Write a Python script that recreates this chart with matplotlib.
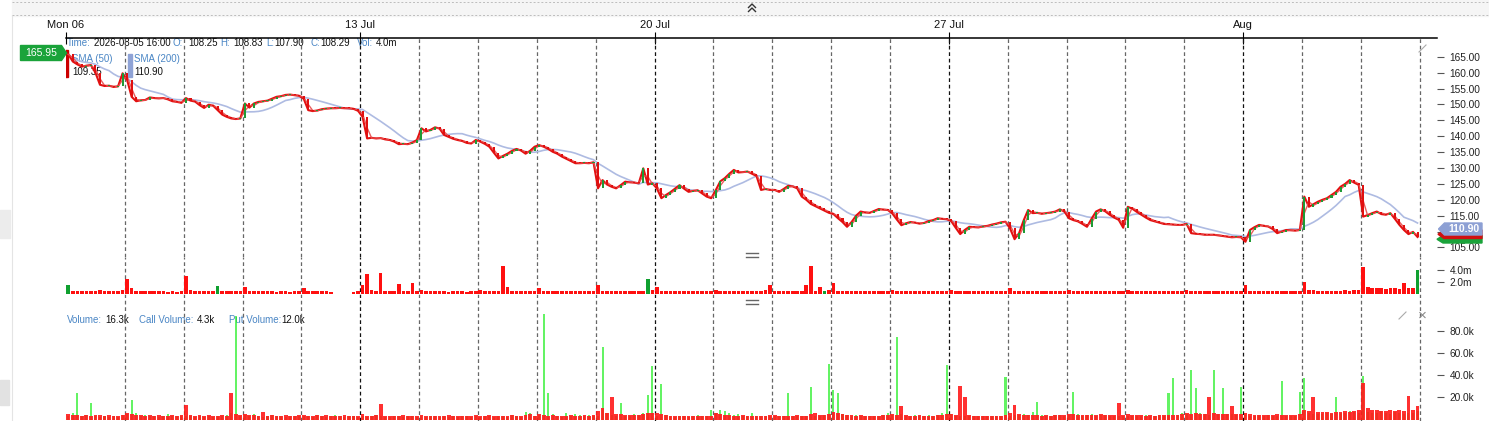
import numpy as np
import pandas as pd
import matplotlib
matplotlib.use("Agg")
import matplotlib.pyplot as plt
from matplotlib.patches import Polygon, Rectangle
from matplotlib.lines import Line2D

plt.rcParams['font.family'] = ['Liberation Sans', 'DejaVu Sans']

W, H = 1489, 421
BARS_PER_DAY = 13

# trading days shown (Jul 06 .. Aug 05), 13 half-hour bars each
day_names = ["Jul 06", "Jul 07", "Jul 08", "Jul 09", "Jul 10",
             "Jul 13", "Jul 14", "Jul 15", "Jul 16", "Jul 17",
             "Jul 20", "Jul 21", "Jul 22", "Jul 23", "Jul 24",
             "Jul 27", "Jul 28", "Jul 29", "Jul 30", "Jul 31",
             "Aug 03", "Aug 04", "Aug 05"]
tick_days = [0, 5, 10, 15, 20]
tick_labels = ["Mon 06", "13 Jul", "20 Jul", "27 Jul", "Aug"]

closes = [
    165.8, 163.5, 162.6, 161.9, 162.2, 162.4, 160.0, 156.2, 155.8, 155.9, 155.5, 155.7, 159.8,  # Jul 06
    157.7, 152.4, 151.0, 151.3, 151.4, 152.2, 152.0, 151.9, 152.0, 151.6, 151.0, 150.8, 150.5,  # Jul 07
    152.0, 151.2, 150.9, 149.8, 148.9, 149.9, 149.6, 148.2, 146.8, 146.1, 145.6, 145.4, 145.6,  # Jul 08
    150.3, 149.0, 150.3, 150.8, 151.0, 151.2, 151.8, 152.4, 152.6, 153.0, 153.1, 152.9, 152.7,  # Jul 09
    151.8, 148.2, 147.9, 148.1, 148.5, 148.7, 148.8, 148.8, 148.9, 148.8, 148.8, 148.6, 148.0,  # Jul 10
    146.1, 139.3, 139.5, 139.3, 139.4, 139.0, 138.8, 138.3, 137.5, 137.6, 137.5, 138.0, 138.8,  # Jul 13
    142.5, 141.5, 142.0, 142.8, 142.4, 140.4, 139.8, 139.2, 138.8, 138.5, 137.9, 137.7, 138.8,  # Jul 14
    138.3, 137.6, 136.7, 134.8, 133.0, 133.8, 134.5, 135.4, 136.0, 135.5, 134.5, 135.4, 136.7,  # Jul 15
    137.2, 136.7, 136.0, 135.1, 134.5, 133.6, 132.9, 132.2, 131.5, 131.5, 131.6, 131.5, 131.8,  # Jul 16
    123.6, 126.2, 124.8, 124.1, 123.6, 124.6, 125.7, 125.5, 125.4, 125.2, 129.9, 124.8, 125.2,  # Jul 17
    123.6, 120.5, 121.5, 122.4, 123.5, 124.6, 123.5, 122.5, 122.8, 123.0, 122.0, 121.0, 120.5,  # Jul 20
    123.0, 125.8, 126.8, 128.2, 129.4, 128.6, 128.7, 128.9, 128.2, 127.5, 123.1, 123.4, 123.1,  # Jul 21
    123.1, 122.5, 123.4, 124.4, 124.2, 123.6, 121.0, 120.0, 118.7, 118.0, 117.3, 116.6, 115.9,  # Jul 22
    115.5, 114.2, 113.0, 111.5, 113.0, 115.0, 116.3, 116.0, 115.9, 116.5, 117.1, 116.9, 116.8,  # Jul 23
    115.7, 113.8, 112.0, 112.6, 113.0, 112.8, 112.5, 112.7, 113.3, 113.6, 114.2, 114.0, 113.9,  # Jul 24
    113.3, 111.2, 109.2, 110.5, 111.5, 111.4, 111.3, 111.6, 111.8, 112.2, 112.5, 112.9, 113.1,  # Jul 27
    111.0, 107.6, 109.5, 113.5, 116.8, 115.8, 115.9, 115.6, 115.8, 116.0, 116.3, 117.0, 116.3,  # Jul 28
    114.2, 113.6, 113.2, 112.4, 111.5, 114.0, 116.3, 117.0, 116.4, 115.3, 114.4, 113.7, 111.2,  # Jul 29
    117.8, 117.2, 116.2, 115.3, 114.4, 113.6, 113.2, 112.8, 112.4, 112.3, 112.2, 112.1, 112.1,  # Jul 30
    112.4, 109.5, 109.3, 109.2, 109.0, 109.0, 109.0, 108.8, 108.6, 108.4, 108.2, 108.3, 108.2,  # Jul 31
    106.8, 110.5, 111.4, 112.1, 111.8, 111.6, 110.8, 109.5, 110.0, 110.5, 110.4, 110.3, 110.5,  # Aug 03
    121.0, 117.8, 118.6, 119.4, 120.0, 120.5, 121.5, 122.5, 124.1, 125.0, 126.2, 125.4, 124.7,  # Aug 04
    114.7, 115.2, 115.8, 116.3, 115.5, 115.3, 115.8, 114.0, 112.1, 110.5, 109.2, 109.9, 108.3,  # Aug 05
]

# stock volume, millions
volume_m = [
    1.5, 0.6, 0.6, 0.5, 0.5, 0.5, 0.6, 0.8, 0.6, 0.5, 0.5, 0.5, 0.7,
    2.5, 1.0, 0.6, 0.5, 0.5, 0.5, 0.5, 0.5, 0.5, 0.4, 0.5, 0.4, 0.5,
    3.0, 0.8, 0.6, 0.5, 0.5, 0.5, 0.5, 1.4, 0.5, 0.5, 0.5, 0.5, 0.6,
    1.2, 0.6, 0.6, 0.5, 0.5, 0.5, 0.5, 0.4, 0.5, 0.5, 0.4, 0.5, 0.5,
    1.0, 0.6, 0.5, 0.5, 0.5, 0.5, 0.4, 0.0, 0.0, 0.0, 0.0, 0.4, 0.5,
    1.5, 3.4, 0.7, 0.6, 3.5, 0.6, 0.5, 0.5, 1.7, 0.5, 0.5, 1.8, 0.5,
    0.8, 0.6, 0.5, 0.5, 0.5, 0.5, 0.4, 0.5, 0.5, 0.5, 0.4, 0.5, 0.5,
    0.7, 0.5, 0.5, 0.5, 0.6, 4.6, 1.2, 0.5, 0.5, 0.5, 0.5, 0.5, 0.5,
    1.0, 0.6, 0.5, 0.5, 0.5, 0.5, 0.6, 0.5, 0.5, 0.5, 0.6, 0.5, 0.5,
    1.5, 0.6, 0.5, 0.5, 0.5, 0.5, 0.5, 0.5, 0.5, 0.5, 0.6, 2.5, 0.7,
    1.2, 0.6, 0.5, 0.5, 0.5, 0.5, 0.5, 0.5, 0.5, 0.5, 0.5, 0.5, 0.6,
    0.8, 0.6, 0.6, 0.5, 0.5, 0.5, 0.5, 0.5, 0.5, 0.5, 0.6, 0.8, 1.5,
    0.6, 0.5, 0.5, 0.5, 0.5, 0.5, 0.6, 1.5, 4.6, 0.6, 1.2, 0.6, 0.7,
    1.8, 0.6, 0.6, 0.5, 0.5, 0.5, 0.5, 0.5, 0.5, 0.5, 0.5, 0.5, 0.5,
    0.8, 0.5, 0.5, 0.5, 0.5, 0.5, 0.5, 0.5, 0.5, 0.5, 0.5, 0.5, 0.6,
    0.7, 0.5, 0.6, 0.5, 0.5, 0.5, 0.5, 0.5, 0.5, 0.5, 0.5, 0.5, 0.5,
    1.0, 0.6, 0.6, 0.6, 0.6, 0.6, 0.5, 0.5, 0.5, 0.5, 0.5, 0.5, 0.5,
    0.8, 0.6, 0.5, 0.5, 0.5, 0.6, 0.5, 0.5, 0.5, 0.5, 0.5, 0.5, 0.6,
    0.8, 0.6, 0.5, 0.5, 0.5, 0.5, 0.5, 0.5, 0.5, 0.5, 0.5, 0.5, 0.5,
    0.8, 0.6, 0.6, 0.5, 0.5, 0.5, 0.5, 0.5, 0.5, 0.5, 0.5, 0.5, 0.5,
    1.6, 0.6, 0.6, 0.6, 0.5, 0.5, 0.5, 0.5, 0.5, 0.5, 0.5, 0.5, 0.6,
    2.0, 0.8, 0.7, 0.6, 0.6, 0.6, 0.6, 0.6, 0.6, 0.7, 0.6, 0.7, 0.8,
    4.5, 1.2, 1.0, 1.0, 1.1, 0.9, 1.0, 1.0, 0.9, 1.8, 1.0, 1.1, 4.0,
]
# bars whose volume is shown green (the rest are red)
vol_green = [0, 33, 128, 167, 298]

# option volume, thousands
call_k = [
    3, 6, 24, 3, 4, 15, 3, 2, 3, 2, 3, 2, 4,
    5, 18, 6, 3, 4, 3, 3, 2, 3, 5, 3, 3, 3,
    3, 3, 2, 3, 2, 3, 2, 3, 3, 4, 6, 93, 3,
    4, 3, 5, 3, 2, 3, 4, 3, 3, 2, 3, 3, 3,
    3, 3, 2, 4, 3, 2, 3, 4, 3, 2, 3, 3, 2,
    3, 2, 3, 4, 3, 2, 2, 3, 3, 2, 3, 3, 2,
    3, 2, 3, 3, 2, 3, 2, 3, 2, 3, 3, 2, 3,
    2, 3, 3, 2, 3, 3, 2, 4, 3, 2, 7, 6, 3,
    4, 95, 24, 5, 3, 2, 6, 3, 5, 4, 3, 4, 3,
    3, 65, 6, 4, 3, 15, 3, 3, 5, 4, 6, 22, 48,
    3, 32, 4, 3, 2, 3, 3, 2, 3, 4, 3, 3, 9,
    6, 9, 8, 6, 4, 5, 3, 3, 6, 3, 3, 3, 3,
    3, 3, 3, 24, 3, 3, 3, 3, 29, 3, 3, 4, 50,
    27, 24, 5, 4, 3, 4, 3, 3, 3, 3, 3, 4, 6,
    4, 74, 5, 3, 3, 4, 3, 3, 4, 3, 4, 6, 49,
    5, 3, 3, 3, 3, 3, 3, 3, 3, 3, 3, 3, 38,
    3, 4, 4, 5, 4, 7, 16, 4, 3, 3, 4, 4, 3,
    4, 25, 5, 3, 4, 5, 3, 4, 4, 3, 3, 3, 3,
    3, 3, 3, 3, 4, 3, 3, 4, 3, 24, 37, 4, 6,
    5, 45, 28, 6, 5, 4, 45, 5, 28, 5, 5, 4, 29,
    4, 3, 3, 4, 3, 4, 3, 3, 35, 3, 3, 3, 25,
    37, 6, 5, 5, 5, 6, 5, 20, 6, 6, 8, 7, 6,
    39, 7, 6, 6, 8, 6, 5, 7, 6, 5, 6, 6, 8,
]
put_k = [
    5, 4, 4, 3, 4, 3, 4, 4, 3, 4, 3, 3, 4,
    6, 5, 4, 4, 3, 4, 3, 4, 3, 3, 4, 3, 4,
    13, 4, 3, 4, 3, 4, 3, 3, 4, 3, 24, 5, 4,
    5, 4, 4, 3, 7, 3, 4, 3, 3, 4, 3, 3, 4,
    4, 3, 3, 4, 3, 4, 3, 3, 3, 4, 3, 3, 3,
    5, 3, 3, 4, 14, 3, 3, 3, 3, 4, 3, 3, 3,
    4, 3, 3, 3, 3, 3, 4, 3, 3, 3, 3, 3, 4,
    3, 3, 4, 3, 3, 3, 3, 4, 3, 3, 4, 5, 3,
    5, 4, 3, 4, 3, 3, 3, 4, 3, 3, 4, 3, 4,
    8, 10, 6, 20, 5, 5, 4, 4, 4, 4, 5, 6, 6,
    6, 5, 4, 3, 3, 3, 3, 3, 3, 3, 3, 3, 3,
    6, 5, 4, 4, 3, 3, 4, 3, 3, 3, 3, 3, 4,
    4, 3, 3, 3, 3, 4, 3, 3, 5, 6, 4, 4, 5,
    7, 6, 5, 4, 4, 3, 4, 3, 3, 3, 3, 4, 4,
    5, 4, 12, 4, 3, 3, 4, 3, 3, 3, 4, 4, 5,
    5, 4, 30, 20, 4, 3, 3, 3, 3, 3, 3, 3, 4,
    6, 13, 5, 4, 4, 4, 4, 3, 4, 3, 4, 4, 4,
    5, 5, 4, 4, 4, 4, 4, 5, 4, 4, 4, 15, 4,
    5, 4, 4, 4, 3, 4, 3, 4, 4, 4, 4, 4, 5,
    6, 5, 6, 5, 5, 20, 6, 5, 5, 5, 12, 5, 5,
    6, 5, 4, 4, 4, 4, 4, 5, 4, 4, 4, 4, 5,
    9, 8, 20, 7, 7, 7, 6, 7, 7, 8, 7, 8, 9,
    33, 10, 9, 9, 8, 8, 9, 8, 9, 8, 21, 9, 12,
]

price_ticks = [165, 160, 155, 150, 145, 140, 135, 130, 125, 120, 115, 110, 105]
vol_ticks = [4.0, 2.0]
opt_ticks = [80, 60, 40, 20]

n = len(closes)
assert n == len(day_names) * BARS_PER_DAY == len(volume_m) == len(call_k) == len(put_k)
g = np.arange(n)
c = np.array(closes)
o = np.r_[c[0], c[:-1]]
up = c > o

BLUE = "#4a86c5"
BLACK = "#111111"


def fbox(x0, y0, x1, y1):
    return [x0 / W, 1 - y1 / H, (x1 - x0) / W, (y1 - y0) / H]


def fx(x):
    return x / W


def fy(y):
    return 1 - y / H


fig = plt.figure(figsize=(W / 100, H / 100), dpi=100)

# top toolbar strip
fig.patches.append(Rectangle((fx(12), fy(16)), fx(W) - fx(12), fy(0) - fy(16),
                             transform=fig.transFigure, color="#f5f5f5", zorder=0))
for yy in (1.5, 14.5):
    fig.add_artist(Line2D([fx(12), 1], [fy(yy), fy(yy)], color="#bdbdbd", lw=0.7, ls=(0, (2, 2))))
for yy in (4, 8):
    fig.add_artist(Line2D([fx(748.5), fx(752), fx(755.5)], [fy(yy + 3.5), fy(yy), fy(yy + 3.5)],
                          color="#333", lw=1.0))
# left UI strip
fig.add_artist(Line2D([fx(11.5), fx(11.5)], [0, fy(16)], color="#e4e4e4", lw=0.8))
fig.patches.append(Rectangle((0, fy(238)), fx(10), fy(210) - fy(238),
                             transform=fig.transFigure, color="#ececec", zorder=0))
fig.patches.append(Rectangle((0, fy(405)), fx(9), fy(380) - fy(405),
                             transform=fig.transFigure, color="#e2e2e2", zorder=0))

ax_p = fig.add_axes(fbox(66, 38, 1437, 257))
ax_v = fig.add_axes(fbox(66, 257, 1437, 298))
ax_o = fig.add_axes(fbox(66, 298, 1437, 421))
for ax in (ax_p, ax_v, ax_o):
    ax.set_xlim(-0.5, 302.3)
    ax.patch.set_alpha(0)
    for s in ax.spines.values():
        s.set_visible(False)
    ax.yaxis.tick_right()
    ax.tick_params(axis="y", length=5, width=0.8, color="#555", labelsize=7.3,
                   labelcolor="#222", pad=4)
    # day separators
    for d in range(1, len(day_names) + 1):
        weekly = d % 5 == 0
        ax.axvline(d * BARS_PER_DAY - 0.5, color="#111" if weekly else "#666",
                   lw=0.9, ls=(0, (3, 2.2)), zorder=2)

# ---- price panel
ax_p.set_ylim(102.0, 170.9)
ax_p.set_yticks(price_ticks)
# the 110.00 label sits under the last-value tag
ax_p.set_yticklabels(["" if v == 110 else f"{v:.2f}" for v in price_ticks])
ax_p.spines["top"].set_visible(True)
ax_p.spines["top"].set_linewidth(1.1)
ax_p.xaxis.tick_top()
ax_p.set_xticks([d * BARS_PER_DAY - 0.5 for d in tick_days])
ax_p.set_xticklabels(tick_labels)
ax_p.tick_params(axis="x", direction="inout", length=8, width=0.8, labelsize=8,
                 labelcolor=BLACK, pad=2)

sma50 = pd.Series(c).rolling(2, min_periods=1).mean()
sma200 = pd.Series(c).rolling(10, min_periods=1).mean()
ax_p.plot(g, sma200, color="#aebbe2", lw=1.2, zorder=3)
ax_p.plot(g, c, color="#e31010", lw=1.5, zorder=4)
ax_p.plot(g, sma50, color="#e84a4a", lw=1.0, alpha=0.9, zorder=4)
body = np.maximum(np.abs(c - o), 0.25)
ax_p.bar(g, body, bottom=np.minimum(o, c), width=0.45,
         color=np.where(up, "#1f9a35", "#e01010"), zorder=5)

# header / legend text (drawn beneath the separators)
def ptext(ax, x, y, s, color, **kw):
    ax.text(fx(x), fy(y), s, transform=fig.transFigure, color=color, fontsize=7.0,
            ha="left", va="center", zorder=1, **kw)

header = [(67, "Time:", BLUE), (94, "2026-08-05 16:00", BLACK), (172.5, "O:", BLUE),
          (188, "108.25", BLACK), (220.5, "H:", BLUE), (233, "108.83", BLACK),
          (266.5, "L:", BLUE), (274, "107.90", BLACK), (310.5, "C:", BLUE),
          (320, "108.29", BLACK), (356.5, "Vol:", BLUE), (376, "4.0m", BLACK)]
for x, s, col in header:
    ptext(ax_p, x, 43.5, s, col)
ptext(ax_p, 72, 59, "SMA (50)", BLUE)
ptext(ax_p, 72, 72, "109.35", BLACK)
ptext(ax_p, 134, 59, "SMA (200)", BLUE)
ptext(ax_p, 134, 72, "110.90", BLACK)
ax_p.add_patch(Rectangle((fx(64.5), fy(77)), fx(3.7), fy(50) - fy(77),
                         transform=fig.transFigure, color="#cc0000", zorder=1))
ax_p.add_patch(Rectangle((fx(128), fy(77)), fx(3.7), fy(54) - fy(77),
                         transform=fig.transFigure, color="#8fa3d6", zorder=1))

# ---- volume panel
ax_v.set_ylim(-0.57, 6.1)
ax_v.set_yticks(vol_ticks)
ax_v.set_yticklabels([f"{v:.1f}m" for v in vol_ticks])
ax_v.set_xticks([])
vol_colors = ["#10a030" if i in vol_green else "#ff1010" for i in range(n)]
ax_v.bar(g, volume_m, width=0.8, color=vol_colors, zorder=3)

# ---- options volume panel
ax_o.set_ylim(-1.35, 109.5)
ax_o.set_yticks(opt_ticks)
ax_o.set_yticklabels([f"{v:.1f}k" for v in opt_ticks])
ax_o.set_xticks([])
ax_o.bar(g, call_k, width=0.45, color="#22ee22", alpha=0.7, zorder=3)
ax_o.bar(g, put_k, width=0.85, color="#ff1a1a", alpha=0.9, zorder=3)
lower = [(67, "Volume:", BLUE), (105, "16.3k", BLACK), (139, "Call Volume:", BLUE),
         (197, "4.3k", BLACK), (228.7, "Put Volume:", BLUE), (281.7, "12.0k", BLACK)]
for x, s, col in lower:
    ptext(ax_o, x, 320, s, col)

# panel dividers "="
for yy in (255, 302):
    for dy in (-1.6, 1.6):
        fig.add_artist(Line2D([fx(746), fx(758)], [fy(yy + dy), fy(yy + dy)], color="#666", lw=1.0))

# corner icons
for (x0, y0) in ((1419, 52), (1399, 319)):
    fig.add_artist(Line2D([fx(x0), fx(x0 + 7)], [fy(y0), fy(y0 - 7)], color="#aaa", lw=0.8))
fig.text(fx(1422), fy(316), "\u00d7", color="#888", fontsize=11, ha="center", va="center")

# last-price tags
fig.patches.append(Polygon([(fx(20.5), fy(45.5)), (fx(61.5), fy(45.5)), (fx(66.5), fy(53)),
                            (fx(61.5), fy(60.5)), (fx(20.5), fy(60.5))],
                           closed=True, transform=fig.transFigure, color="#1aa33a"))
fig.text(fx(41), fy(53), "165.95", color="white", fontsize=7.5, ha="center", va="center")


def tag(y0, y1, col, xl=1438.5):
    fig.patches.append(Polygon([(fx(xl), fy((y0 + y1) / 2)), (fx(xl + 6), fy(y0)), (fx(1482), fy(y0)),
                                (fx(1482), fy(y1)), (fx(xl + 6), fy(y1))],
                               closed=True, transform=fig.transFigure, color=col))

tag(235.5, 243, "#1aa33a", 1437)
tag(230, 238.5, "#d01010", 1438)
tag(223, 235, "#8da0d4")
fig.text(fx(1464), fy(229), "110.90", color="white", fontsize=7.5, ha="center", va="center",
         fontweight="bold")

fig.savefig("out.png", dpi=100)
